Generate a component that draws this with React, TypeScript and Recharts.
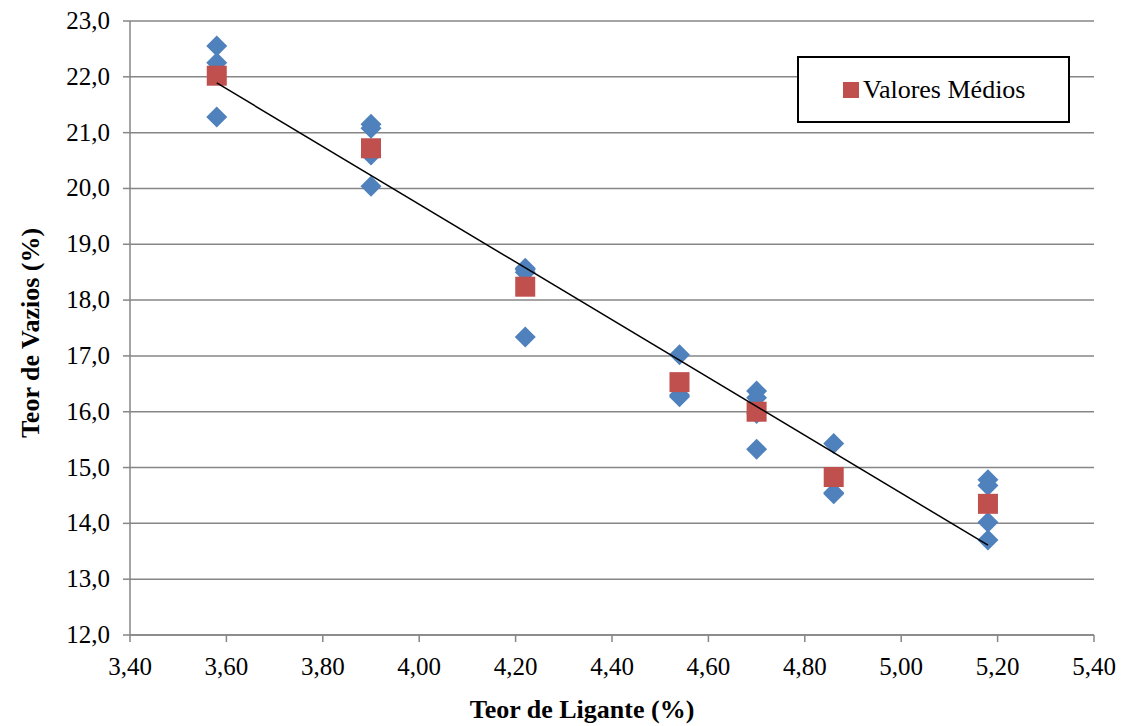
import React from 'react'
import {
  ScatterChart,
  Scatter,
  XAxis,
  YAxis,
  CartesianGrid
} from 'recharts'

// teor de ligante (%) of each group of samples
const teorLigante = [3.58, 3.9, 4.22, 4.54, 4.7, 4.86, 5.18]

// teor de vazios (%) of each individual sample, per group
const ensaios = [
  [22.55, 22.25, 21.28],
  [21.15, 21.08, 20.6, 20.04],
  [18.57, 18.55, 18.5, 17.34],
  [17.02, 16.3, 16.27],
  [16.37, 16.25, 15.97, 15.33],
  [15.43, 14.55, 14.53],
  [14.78, 14.68, 14.02, 13.7]
]

const valoresMedios = [22.02, 20.72, 18.24, 16.53, 16.0, 14.83, 14.35]

// linear trend line end points
const tendenciaX = [3.58, 5.18]
const tendenciaY = [21.89, 13.61]

const xTicks = [3.4, 3.6, 3.8, 4.0, 4.2, 4.4, 4.6, 4.8, 5.0, 5.2, 5.4]
const yTicks = [12, 13, 14, 15, 16, 17, 18, 19, 20, 21, 22, 23]

const BLUE = '#4F81BD'
const RED = '#C0504D'
const GRID = '#868686'
const FONT = 'Liberation Serif, Times New Roman, serif'

const amostras = teorLigante.flatMap((x, i) => ensaios[i].map((y) => ({ x, y })))
const medias = teorLigante.map((x, i) => ({ x, y: valoresMedios[i] }))
const tendencia = tendenciaX.map((x, i) => ({ x, y: tendenciaY[i] }))

const Diamond = (props: any) => {
  const { cx, cy } = props
  if (cx == null || cy == null) return <g />
  const r = 10.5
  return (
    <polygon
      points={`${cx},${cy - r} ${cx + r},${cy} ${cx},${cy + r} ${cx - r},${cy}`}
      fill={BLUE}
    />
  )
}

const Square = (props: any) => {
  const { cx, cy } = props
  if (cx == null || cy == null) return <g />
  return <rect x={cx - 10} y={cy - 10} width={20} height={20} fill={RED} />
}

const NoShape = () => <g />

const XTick = (props: any) => {
  const { x, payload } = props
  return (
    <text x={x} y={675} textAnchor="middle" fill="#000" fontSize={25} fontFamily={FONT}>
      {Number(payload.value).toFixed(2).replace('.', ',')}
    </text>
  )
}

const YTick = (props: any) => {
  const { y, payload } = props
  return (
    <text x={110} y={y + 8} textAnchor="end" fill="#000" fontSize={25} fontFamily={FONT}>
      {Number(payload.value).toFixed(1).replace('.', ',')}
    </text>
  )
}

export default function App() {
  return (
    <div
      style={{
        position: 'absolute',
        left: 0,
        top: 0,
        width: 1125,
        height: 726,
        background: '#fff',
        fontFamily: FONT
      }}
    >
      <ScatterChart width={1125} height={726} margin={{ top: 21, right: 31, left: 0, bottom: 0 }}>
        <CartesianGrid vertical={false} stroke={GRID} strokeWidth={1.5} />
        <XAxis
          type="number"
          dataKey="x"
          domain={[3.4, 5.4]}
          ticks={xTicks}
          height={91}
          stroke={GRID}
          strokeWidth={1.5}
          tickSize={7}
          tick={<XTick />}
          allowDataOverflow
          label={{
            content: () => (
              <text
                x={582}
                y={718}
                textAnchor="middle"
                fill="#000"
                fontSize={26}
                fontWeight="bold"
                fontFamily={FONT}
              >
                Teor de Ligante (%)
              </text>
            )
          }}
        />
        <YAxis
          type="number"
          dataKey="y"
          domain={[12, 23]}
          ticks={yTicks}
          width={130}
          stroke={GRID}
          strokeWidth={1.5}
          tickSize={7}
          tick={<YTick />}
          allowDataOverflow
          label={{
            content: () => {
              const cx = 39
              const cy = 333
              return (
                <text
                  x={cx}
                  y={cy}
                  transform={`rotate(-90, ${cx}, ${cy})`}
                  textAnchor="middle"
                  fill="#000"
                  fontSize={26}
                  fontWeight="bold"
                  fontFamily={FONT}
                >
                  Teor de Vazios (%)
                </text>
              )
            }
          }}
        />
        <Scatter name="Ensaios" data={amostras} shape={Diamond} isAnimationActive={false} />
        <Scatter name="Valores Médios" data={medias} shape={Square} isAnimationActive={false} />
        <Scatter
          name="Tendência"
          data={tendencia}
          shape={NoShape}
          line={{ stroke: '#000', strokeWidth: 1.5 }}
          isAnimationActive={false}
        />
      </ScatterChart>
      <div
        style={{
          position: 'absolute',
          left: 797,
          top: 56,
          width: 273,
          height: 67,
          border: '2px solid #000',
          background: '#fff',
          display: 'flex',
          alignItems: 'center',
          fontFamily: FONT,
          fontSize: 26,
          color: '#000',
          boxSizing: 'border-box'
        }}
      >
        <span
          style={{
            display: 'inline-block',
            width: 16,
            height: 16,
            background: RED,
            marginLeft: 44,
            marginRight: 4
          }}
        />
        Valores Médios
      </div>
    </div>
  )
}
